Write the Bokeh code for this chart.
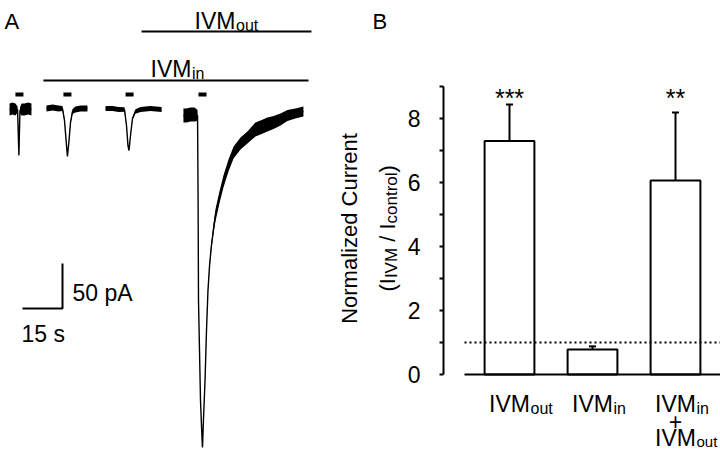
import numpy as np
from bokeh.plotting import figure
from bokeh.models import Range1d, LinearAxis, FixedTicker
from bokeh.layouts import row
from bokeh.embed import file_html
from bokeh.resources import INLINE
from bokeh.core.properties import value

FONT = "Liberation Sans"

# ---------------- Panel A data: whole-cell currents (time in s, current in pA) ----------------
# each trace: time, mean current, noise half-amplitude (pA)
trace1_t = [0.4, 1.5, 2.6, 3.4, 3.9, 4.3, 4.9, 6.0, 7.5, 8.6]
trace1_i = [-1.1, 0.0, -1.1, -1.1, -52.2, -2.2, -1.1, -1.1, 0.0, -1.1]
trace1_noise = [6.7, 6.7, 6.7, 3.3, 0.6, 3.3, 6.7, 6.7, 6.7, 6.7]

trace2_t = [14.25, 16.5, 18.75, 20.25, 21.0, 21.75, 22.1, 22.7, 23.25, 24.0, 25.1, 27.0, 29.6]
trace2_i = [0.0, 1.1, 0.0, 0.0, -13.3, -41.1, -53.3, -35.6, -15.6, -3.3, -1.1, 0.0, 0.0]
trace2_noise = [3.3, 3.3, 3.3, 2.8, 1.7, 1.1, 0.6, 1.1, 1.7, 2.8, 3.3, 3.3, 3.3]

trace3_t = [36.4, 39.0, 41.25, 43.5, 44.25, 44.8, 45.2, 45.75, 46.5, 47.6, 49.5, 53.25, 57.4]
trace3_i = [0.0, 0.0, -1.1, -1.1, -18.9, -41.1, -46.7, -30.0, -11.1, -3.3, -1.1, 0.0, -1.1]
trace3_noise = [2.8, 2.8, 2.8, 2.5, 1.5, 1.0, 0.6, 1.0, 1.5, 2.5, 2.8, 2.8, 2.8]

trace4_t = [65.6, 66.75, 68.25, 69.75, 70.9, 71.1, 71.25, 72.0, 72.6, 72.75, 73.1, 73.7,
            74.25, 74.8, 75.4, 76.1, 76.9, 77.6, 79.1, 80.6, 82.5, 84.4, 87.0, 89.6, 92.6,
            94.5, 97.1, 99.4, 102.0, 104.6, 107.6, 110.6]
trace4_i = [-7.8, -7.8, -6.7, -6.7, -7.8, -102.2, -213.3, -324.4, -368.9, -376.7, -346.7,
            -302.2, -246.7, -202.2, -174.4, -152.2, -133.3, -118.9, -98.9, -81.1, -63.3,
            -48.9, -38.9, -32.2, -23.3, -21.1, -17.8, -15.6, -12.2, -7.8, -5.6, -3.3]
trace4_noise = [7.8, 7.8, 7.8, 7.8, 6.0, 0.3, 0.3, 0.3, 0.3, 0.3, 0.5, 0.9, 1.1, 1.7, 2.8,
                3.9, 5.6, 6.7, 6.7, 6.7, 6.7, 6.7, 6.7, 6.7, 7.8, 7.8, 7.8, 7.2, 6.7, 6.1,
                5.6, 5.6]

# agonist pulses (onset, duration in s)
pulse_onsets = [2.6, 20.6, 43.9, 71.25]
pulse_duration = 3.0

# drug application periods (s)
ivm_out_period = [49.9, 113.6]
ivm_in_period = [13.1, 112.5]

# scale bar
scale_time = 15   # s
scale_current = 50  # pA

# ---------------- Panel B data ----------------
conditions = [1, 2, 3]
norm_mean = [7.3, 0.78, 6.06]
norm_sem = [1.14, 0.10, 2.13]
significance = ["***", "", "**"]
control_level = 1.0
ticks_major = [0, 2, 4, 6, 8]
ticks_minor = [1, 3, 5, 7, 9]

# ---------------- layout ----------------
W_A, W_B, H = 330, 390, 451
A_S_PER_PX = 0.375
A_PA_PER_PX = 50.0 / 45.0
A_LEFT_T = -3.0
A_TOP = 120.0
B_PX_X = 83.0
B_PX_Y = 32.0

MAIN = 23
SUB = 16


def txt(fig, x, y, s, size, align="left", baseline="alphabetic", angle=0.0):
    fig.text(x=[x], y=[y], text=[s], text_font=value(FONT), text_font_size=f"{size}px",
             text_align=align, text_baseline=baseline, text_color="black", angle=angle)


def at(px):
    return A_LEFT_T + px * A_S_PER_PX


def ai(py):
    return A_TOP - py * A_PA_PER_PX


def bx(px):
    return 1 + (px - 509) / B_PX_X


def by(py):
    return (374 - py) / B_PX_Y


# ================= Panel A =================
pA = figure(width=W_A, height=H,
            x_range=Range1d(A_LEFT_T, A_LEFT_T + W_A * A_S_PER_PX),
            y_range=Range1d(A_TOP - H * A_PA_PER_PX, A_TOP),
            output_backend="svg", toolbar_location=None,
            x_axis_type=None, y_axis_type=None, min_border=0,
            outline_line_color=None)

for t, i, n in [(trace1_t, trace1_i, trace1_noise), (trace2_t, trace2_i, trace2_noise),
                (trace3_t, trace3_i, trace3_noise), (trace4_t, trace4_i, trace4_noise)]:
    up = [a + b for a, b in zip(i, n)]
    lo = [a - b for a, b in zip(i, n)]
    pA.varea(x=t, y1=up, y2=lo, fill_color="black")
    pA.line(t, i, line_color="black", line_width=1.4)

# pulses
pA.quad(left=pulse_onsets, right=[p + pulse_duration for p in pulse_onsets],
        bottom=ai(96), top=ai(92), fill_color="black", line_color=None)

# drug bars
pA.segment(x0=[ivm_out_period[0], ivm_in_period[0]], x1=[ivm_out_period[1], ivm_in_period[1]],
           y0=[ai(31), ai(80)], y1=[ai(31), ai(80)], line_color="black", line_width=2)
txt(pA, at(235), ai(20), "IVM", MAIN, "right")
txt(pA, at(235.5), ai(25), "out", SUB, "left")
txt(pA, at(191), ai(68), "IVM", MAIN, "right")
txt(pA, at(191.5), ai(73), "in", SUB, "left")

txt(pA, at(4), ai(21), "A", 22, "left")

# scale bar
SB_T, SB_I = at(62), ai(308)
pA.line([SB_T - scale_time, SB_T, SB_T], [SB_I, SB_I, SB_I + scale_current],
        line_color="black", line_width=2)
txt(pA, at(72), ai(292), f"{scale_current} pA", MAIN, "left")
txt(pA, at(21), ai(333), f"{scale_time} s", MAIN, "left")

# ================= Panel B =================
pB = figure(width=W_B, height=H,
            x_range=Range1d(bx(330), bx(330 + W_B)),
            y_range=Range1d(by(451), by(0)),
            output_backend="svg", toolbar_location=None,
            x_axis_type=None, y_axis_type=None, min_border=0,
            outline_line_color=None)

axis = LinearAxis(bounds=(0, 9), fixed_location=bx(443),
                  ticker=FixedTicker(ticks=ticks_major, minor_ticks=ticks_minor),
                  axis_line_width=2, axis_line_color="black",
                  major_tick_line_width=2, minor_tick_line_width=2,
                  major_tick_in=0, major_tick_out=4, minor_tick_in=0, minor_tick_out=4,
                  major_label_text_font=FONT, major_label_text_font_size=f"{MAIN}px",
                  major_label_text_color="black", major_label_standoff=19)
pB.add_layout(axis, "left")

pB.vbar(x=conditions, top=norm_mean, bottom=0, width=0.6, fill_color="white",
        line_color="black", line_width=2)
err_top = [m + s for m, s in zip(norm_mean, norm_sem)]
pB.segment(x0=conditions, x1=conditions, y0=norm_mean, y1=err_top, line_color="black", line_width=2)
pB.scatter(x=conditions, y=err_top, marker="dash", size=7, line_color="black", line_width=2)
pB.segment(x0=[bx(464)], x1=[bx(720)], y0=[0], y1=[0], line_color="black", line_width=2)
pB.segment(x0=[bx(464)], x1=[bx(720)], y0=[control_level], y1=[control_level],
           line_color="black", line_width=2, line_dash="2 3")

for x, s in zip(conditions, significance):
    if s:
        txt(pB, x, by(97), s, 25, "center")

# category labels
sub_dx = 21.0 / B_PX_X
txt(pB, conditions[0], by(403), "IVM", MAIN, "center")
txt(pB, conditions[0] + sub_dx, by(408), "out", SUB, "left")
txt(pB, conditions[1], by(403), "IVM", MAIN, "center")
txt(pB, conditions[1] + sub_dx, by(408), "in", SUB, "left")
txt(pB, conditions[2], by(403), "IVM", MAIN, "center")
txt(pB, conditions[2] + sub_dx, by(408), "in", SUB, "left")
txt(pB, conditions[2], by(421), "+", MAIN, "center")
txt(pB, conditions[2], by(437), "IVM", MAIN, "center")
txt(pB, conditions[2] + sub_dx, by(441), "out", SUB - 1, "left")

# panel letter and y-axis title
txt(pB, bx(372), by(21), "B", 22, "left")
VERT = np.pi / 2
txt(pB, bx(349), by(228), "Normalized Current", 22, "center", "middle", VERT)
base_x, sub_x = 387, 391
TSUB = 17
y0 = 291
txt(pB, bx(base_x), by(y0), "(I", 22, angle=VERT)
y0 -= 13.4
txt(pB, bx(sub_x), by(y0), "IVM", TSUB, angle=VERT)
y0 -= 30.2 + 6.1
txt(pB, bx(base_x), by(y0), "/ I", 22, angle=VERT)
y0 -= 18.3
txt(pB, bx(sub_x), by(y0), "control", TSUB, angle=VERT)
y0 -= 51.0
txt(pB, bx(base_x), by(y0), ")", 22, angle=VERT)

layout = row(pA, pB)
open("out.html", "w").write(file_html(layout, INLINE))
